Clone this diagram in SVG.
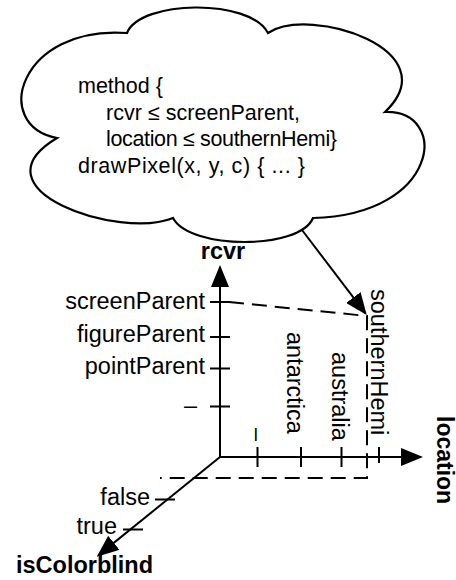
<svg xmlns="http://www.w3.org/2000/svg" width="456" height="580" viewBox="0 0 456 580">
<style>
.ax{stroke:#000;stroke-width:2;fill:none}
.tk{stroke:#000;stroke-width:2}
.ds{stroke:#000;stroke-width:2;fill:none;stroke-dasharray:15 8}
.lb{font-family:"Liberation Sans",Arial,sans-serif;font-size:23.5px;fill:#000}
.bd{font-family:"Liberation Sans",Arial,sans-serif;font-size:23.5px;font-weight:bold;fill:#000}
.cl{font-family:"Liberation Sans",Arial,sans-serif;font-size:21.5px;fill:#000}
</style>
<defs>
<marker id="ah" viewBox="0 0 22 18" refX="20" refY="9" markerWidth="22" markerHeight="18" markerUnits="userSpaceOnUse" orient="auto">
<path d="M0,0 L22,9 L0,18 Z" fill="#000"/>
</marker>
</defs>
<rect width="456" height="580" fill="#fff"/>
<g id="cloud">
<path d="M127,33 C140,0 250,-2 268,33 C310,5 450,50 385,112 C450,110 440,215 313,218 C300,250 190,250 173,218 C120,240 -30,190 57,138 C-10,125 20,25 127,33 Z" fill="#fff" stroke="#000" stroke-width="2.2" stroke-linejoin="miter"/>
<text class="cl" x="78" y="93">method {</text>
<text class="cl" x="106" y="119.5" textLength="194" lengthAdjust="spacing">rcvr ≤ screenParent,</text>
<text class="cl" x="106" y="146" textLength="231" lengthAdjust="spacing">location ≤ southernHemi}</text>
<text class="cl" x="78" y="173" textLength="227" lengthAdjust="spacing">drawPixel(x, y, c) { ... }</text>
</g>
<g id="connectors">
<path class="ax" d="M220,457 V267" marker-end="url(#ah)"/>
<path class="ax" d="M220,457 H421" marker-end="url(#ah)"/>
<path class="ax" d="M220,457 L98.3,555.4" marker-end="url(#ah)"/>
<path class="ax" d="M302,230 L365.5,313.4" marker-end="url(#ah)"/>
<path class="ds" d="M229,302 L367,316 L367,478 L160,478"/>
</g>
<g id="rcvr-axis">
<text class="bd" x="223" y="259" text-anchor="middle">rcvr</text>
<line class="tk" x1="210" y1="302" x2="230" y2="302"/>
<line class="tk" x1="210" y1="337" x2="230" y2="337"/>
<line class="tk" x1="210" y1="368.5" x2="230" y2="368.5"/>
<line class="tk" x1="210" y1="406.5" x2="230" y2="406.5"/>
<text class="lb" x="205" y="308.5" text-anchor="end">screenParent</text>
<text class="lb" x="205" y="341.5" text-anchor="end">figureParent</text>
<text class="lb" x="205" y="373.5" text-anchor="end">pointParent</text>
<text class="lb" x="197" y="413" text-anchor="end">–</text>
</g>
<g id="location-axis">
<line class="tk" x1="257.5" y1="447" x2="257.5" y2="467"/>
<line class="tk" x1="301" y1="447" x2="301" y2="467"/>
<line class="tk" x1="341.5" y1="447" x2="341.5" y2="467"/>
<line class="tk" x1="379" y1="447" x2="379" y2="463"/>
<text class="lb" transform="translate(249.5,428) rotate(90)">–</text>
<text class="lb" transform="translate(287,332) rotate(90)">antarctica</text>
<text class="lb" transform="translate(332,352) rotate(90)">australia</text>
<text class="lb" transform="translate(371,289) rotate(90)">southernHemi</text>
<text class="bd" transform="translate(436.5,416) rotate(90)" style="font-size:23px">location</text>
</g>
<g id="isColorblind-axis">
<line class="tk" x1="155" y1="499.5" x2="175" y2="499.5"/>
<line class="tk" x1="123" y1="529.5" x2="143" y2="529.5"/>
<text class="lb" x="150" y="505" text-anchor="end">false</text>
<text class="lb" x="117" y="533.5" text-anchor="end">true</text>
<text class="bd" x="16" y="573">isColorblind</text>
</g>
</svg>
